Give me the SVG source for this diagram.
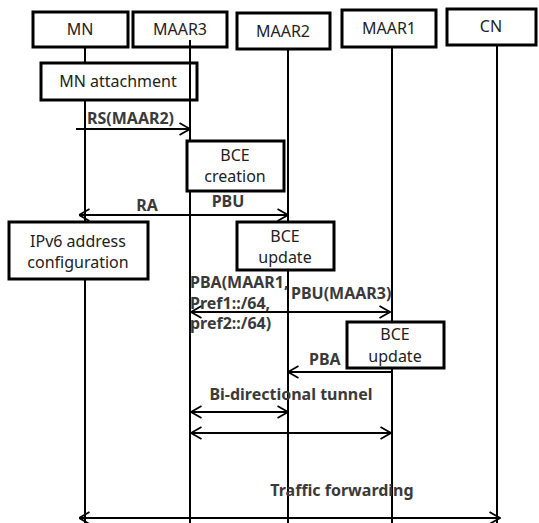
<svg xmlns="http://www.w3.org/2000/svg" width="539" height="523" viewBox="0 0 539 523">
<defs>
<marker id="ah" viewBox="0 0 12 14" refX="11.5" refY="7" markerWidth="12" markerHeight="14" markerUnits="userSpaceOnUse" orient="auto-start-reverse">
<path d="M1,1 L11.5,7 L1,13" fill="none" stroke="#000" stroke-width="1.8"/>
</marker>
</defs>
<style>
.box{fill:#fff;stroke:#000;stroke-width:3}
.life{stroke:#000;stroke-width:2;fill:none}
.msg{stroke:#000;stroke-width:2;fill:none}
.t{font-family:"Noto Sans","Open Sans",sans-serif;font-size:16px;fill:#222;text-anchor:middle}
.m{font-family:"Noto Sans","Open Sans",sans-serif;font-size:16px;font-weight:bold;fill:#3a3a3a}
</style>
<g id="lifelines">
<line class="life" x1="85" y1="47" x2="85" y2="523"/>
<line class="life" x1="190" y1="47" x2="190" y2="523"/>
<line class="life" x1="288" y1="49" x2="288" y2="523" stroke-width="3"/>
<line class="life" x1="392" y1="47" x2="392" y2="523"/>
<line class="life" x1="497" y1="45" x2="497" y2="523"/>
</g>
<g id="MN"><rect class="box" x="33" y="12" width="95" height="35"/><text class="t" x="80" y="35">MN</text></g>
<g id="MAAR3"><rect class="box" x="133" y="12" width="94" height="35"/><text class="t" x="180" y="35">MAAR3</text></g>
<g id="MAAR2"><rect class="box" x="237" y="13" width="93" height="36"/><text class="t" x="283" y="37">MAAR2</text></g>
<g id="MAAR1"><rect class="box" x="342" y="10" width="94" height="37"/><text class="t" x="389" y="34">MAAR1</text></g>
<g id="CN"><rect class="box" x="447" y="9" width="89" height="36"/><text class="t" x="491" y="32">CN</text></g>
<g id="mn-attachment"><rect class="box" x="41" y="63" width="156" height="37"/><text class="t" x="118" y="87">MN attachment</text></g>
<line class="life" x1="190" y1="40" x2="190" y2="100"/>
<g id="bce-creation"><rect class="box" x="187" y="141" width="97" height="50"/><text class="t" x="235" y="161">BCE</text><text class="t" x="235" y="182">creation</text></g>
<g id="ipv6-config"><rect class="box" x="9" y="222" width="139" height="57"/><text class="t" x="78" y="247">IPv6 address</text><text class="t" x="78" y="268">configuration</text></g>
<g id="bce-update-1"><rect class="box" x="237" y="222" width="97" height="48"/><text class="t" x="285" y="242">BCE</text><text class="t" x="285" y="263">update</text></g>
<g id="bce-update-2"><rect class="box" x="347" y="322" width="97" height="46"/><text class="t" x="395" y="340">BCE</text><text class="t" x="395" y="362">update</text></g>
<g id="connectors">
<line class="msg" x1="76" y1="129" x2="190" y2="129" marker-end="url(#ah)"/>
<line class="msg" x1="190" y1="215" x2="79" y2="215" marker-end="url(#ah)"/>
<line class="msg" x1="190" y1="215" x2="288" y2="215" marker-end="url(#ah)"/>
<line class="msg" x1="288" y1="312" x2="191" y2="312" marker-end="url(#ah)"/>
<line class="msg" x1="288" y1="312" x2="390" y2="312" marker-end="url(#ah)"/>
<line class="msg" x1="391" y1="372" x2="288" y2="372" marker-end="url(#ah)"/>
<line class="msg" x1="191" y1="412" x2="288" y2="412" marker-start="url(#ah)" marker-end="url(#ah)"/>
<line class="msg" x1="191" y1="433" x2="391" y2="433" marker-start="url(#ah)" marker-end="url(#ah)"/>
<line class="msg" x1="79" y1="518" x2="500" y2="518" marker-start="url(#ah)" marker-end="url(#ah)"/>
</g>
<g id="labels">
<text class="m" x="87" y="124">RS(MAAR2)</text>
<text class="m" x="147" y="211" text-anchor="middle">RA</text>
<text class="m" x="228" y="207" text-anchor="middle">PBU</text>
<text class="m" x="190" y="288">PBA(MAAR1,</text>
<text class="m" x="190" y="309">Pref1::/64,</text>
<text class="m" x="190" y="329">pref2::/64)</text>
<text class="m" x="291" y="299">PBU(MAAR3)</text>
<text class="m" x="309" y="365">PBA</text>
<text class="m" x="291" y="400" text-anchor="middle">Bi-directional tunnel</text>
<text class="m" x="342" y="496" text-anchor="middle">Traffic forwarding</text>
</g>
</svg>
